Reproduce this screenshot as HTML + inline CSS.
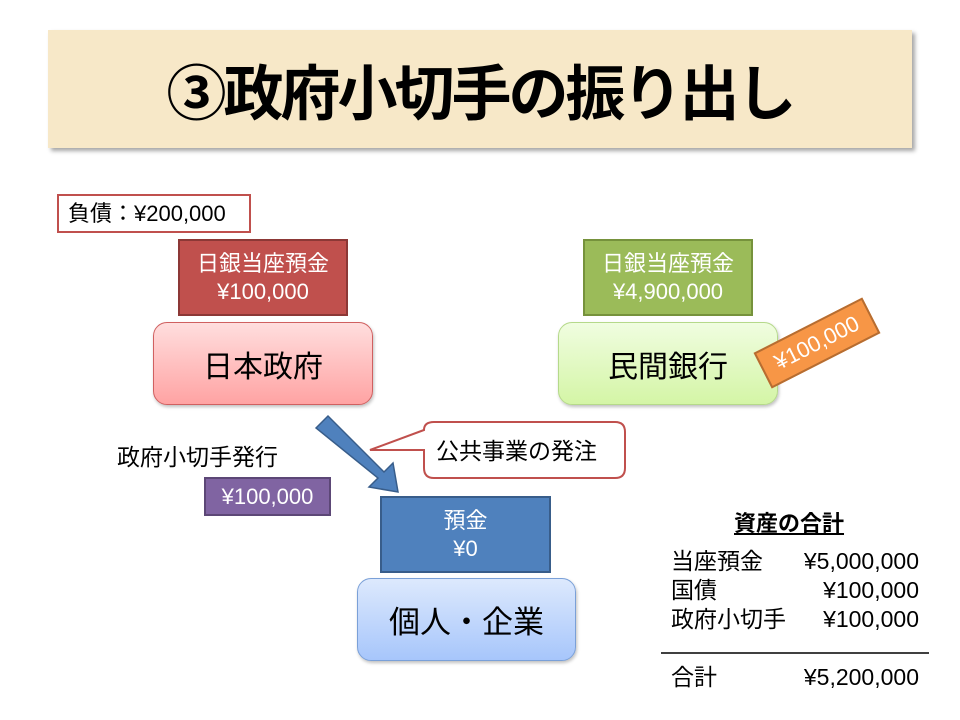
<!DOCTYPE html>
<html><head><meta charset="utf-8"><style>
body{margin:0;width:960px;height:720px;background:#fff;position:relative;overflow:hidden;font-family:"Liberation Sans","Noto Sans CJK JP",sans-serif;}
.a{position:absolute;box-sizing:border-box;}
.c{display:flex;align-items:center;justify-content:center;text-align:center;}
.w{color:#fff;font-size:22px;line-height:28px;}
</style></head><body>
<div class="a c" style="left:48px;top:30px;width:864px;height:118px;background:#f7e8c8;box-shadow:3px 3px 4px rgba(0,0,0,0.35);font-size:60px;font-weight:bold;letter-spacing:-3px;color:#000;">③政府小切手の振り出し</div>

<div class="a" style="left:57px;top:194px;width:194px;height:39px;border:2px solid #c0504d;background:#fff;font-size:22px;line-height:35px;padding-left:9px;white-space:nowrap;">負債：¥200,000</div>
<div class="a c w" style="left:178px;top:239px;width:170px;height:77px;background:#c0504d;border:2px solid #8c3836;">日銀当座預金<br>¥100,000</div>
<div class="a c" style="left:153px;top:322px;width:220px;height:83px;border-radius:14px;background:linear-gradient(#ffdede,#ffa3a3);border:1px solid #d06060;font-size:30px;box-shadow:1px 2px 3px rgba(0,0,0,0.25);">日本政府</div>

<div class="a c w" style="left:583px;top:239px;width:170px;height:77px;background:#9bbb59;border:2px solid #76923c;">日銀当座預金<br>¥4,900,000</div>
<div class="a c" style="left:558px;top:322px;width:220px;height:83px;border-radius:14px;background:linear-gradient(#f0fde0,#d4f5a6);border:1px solid #b5d98a;font-size:30px;box-shadow:1px 2px 3px rgba(0,0,0,0.25);">民間銀行</div>
<div class="a c" style="left:756px;top:323px;width:122px;height:40px;background:#f79646;border:2px solid #b66d31;color:#fff;font-size:22px;transform:rotate(-27deg);">¥100,000</div>

<svg class="a" style="left:0;top:0" width="960" height="720">
<polygon points="316,428 328,416 384,472 393,463 398,492 369,487 378,478" fill="#4f81bd" stroke="#385d8a" stroke-width="1.5"/>
<path d="M434,422 H615 Q625,422 625,432 V468 Q625,478 615,478 H434 Q424,478 424,468 V450 L370,450 L424,430 Q424,422 434,422 Z" fill="#fff" stroke="#c0504d" stroke-width="2"/>
<line x1="661" y1="653" x2="929" y2="653" stroke="#000" stroke-width="1.5"/>
</svg>
<div class="a" style="left:436px;top:432px;font-size:23px;white-space:nowrap;">公共事業の発注</div>
<div class="a" style="left:117px;top:438px;font-size:23px;white-space:nowrap;">政府小切手発行</div>
<div class="a c" style="left:204px;top:477px;width:127px;height:39px;background:#8064a2;border:2px solid #5c4776;color:#fff;font-size:22px;">¥100,000</div>
<div class="a c w" style="left:380px;top:496px;width:171px;height:77px;background:#4f81bd;border:2px solid #385d8a;">預金<br>¥0</div>
<div class="a c" style="left:357px;top:578px;width:219px;height:83px;border-radius:14px;background:linear-gradient(#dde9fd,#a7c6fb);border:1px solid #7aa0d8;font-size:31px;box-shadow:1px 2px 3px rgba(0,0,0,0.25);">個人・企業</div>

<div class="a" style="left:734px;top:506px;font-size:22px;font-weight:bold;text-decoration:underline;white-space:nowrap;">資産の合計</div>
<div class="a" style="left:671px;top:547px;width:248px;font-size:23px;line-height:29px;">
<div style="display:flex;justify-content:space-between"><span>当座預金</span><span>¥5,000,000</span></div>
<div style="display:flex;justify-content:space-between"><span>国債</span><span>¥100,000</span></div>
<div style="display:flex;justify-content:space-between"><span>政府小切手</span><span>¥100,000</span></div>
</div>
<div class="a" style="left:671px;top:663px;width:248px;font-size:23px;line-height:29px;display:flex;justify-content:space-between"><span>合計</span><span>¥5,200,000</span></div>
</body></html>
